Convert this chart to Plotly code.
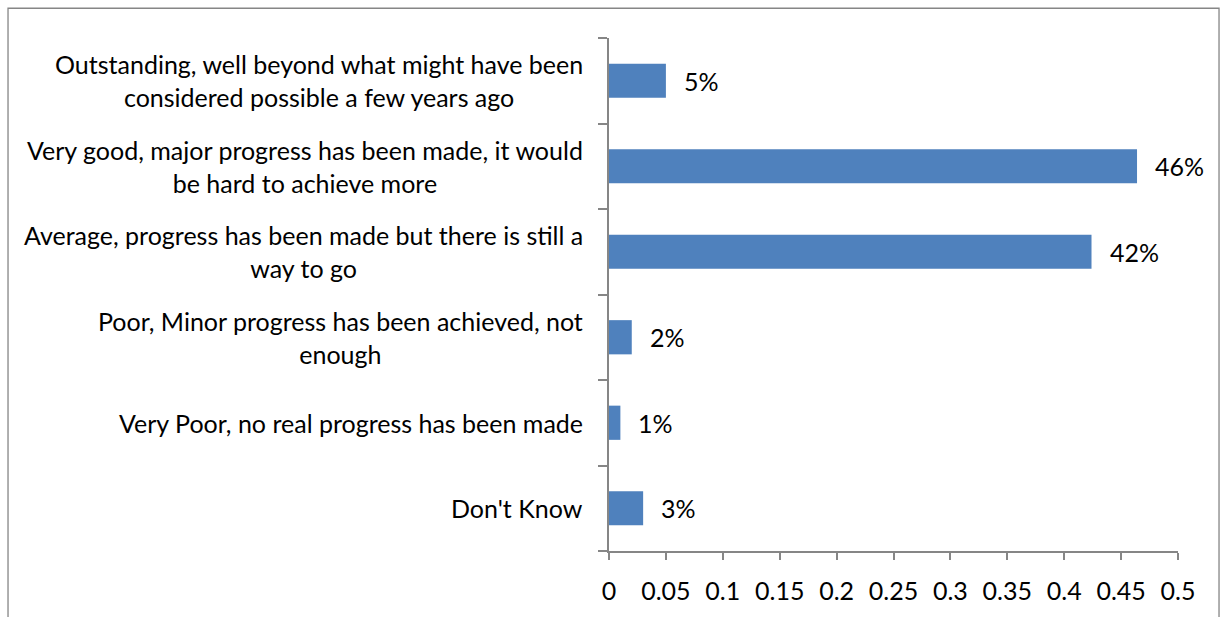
import plotly.graph_objects as go

# Survey responses, top to bottom
categories = [
    "Outstanding, well beyond what might have been<br>considered possible a few years ago",
    "Very good, major progress has been made, it would<br>be hard to achieve more",
    "Average, progress has been made but there is still a<br>way to go",
    "Poor, Minor progress has been achieved, not<br>enough",
    "Very Poor, no real progress has been made",
    "Don't Know",
]
shares = [0.05, 0.464, 0.424, 0.02, 0.01, 0.03]
x_ticks = [0, 0.05, 0.1, 0.15, 0.2, 0.25, 0.3, 0.35, 0.4, 0.45, 0.5]
x_tick_labels = ["0", "0.05", "0.1", "0.15", "0.2", "0.25", "0.3", "0.35", "0.4", "0.45", "0.5"]

FONT = "Lato"
FSIZE = 25
AXIS_GREY = "#868686"
BAR_BLUE = "#4F81BD"

fig = go.Figure(
    go.Bar(
        x=shares,
        y=categories,
        orientation="h",
        marker=dict(color=BAR_BLUE, line=dict(width=0)),
        width=0.4,
        hoverinfo="skip",
    )
)

# Category labels, centred within their own block
annotations = []
for cat in categories:
    annotations.append(dict(
        x=0, xref="paper", y=cat, yref="y",
        text=cat, showarrow=False, xanchor="right", yanchor="middle",
        align="center", xshift=-24,
        font=dict(family=FONT, size=FSIZE, color="#000000"),
    ))

# Percentage labels next to each bar
for cat, v in zip(categories, shares):
    annotations.append(dict(
        x=v, xref="x", y=cat, yref="y",
        text=f"{round(v * 100):.0f}%", showarrow=False,
        xanchor="left", yanchor="middle", xshift=16,
        font=dict(family=FONT, size=FSIZE, color="#000000"),
    ))

fig.update_layout(
    width=1225, height=617,
    margin=dict(l=609, r=47, t=38, b=62),
    paper_bgcolor="white", plot_bgcolor="white",
    showlegend=False,
    annotations=annotations,
    font=dict(family=FONT, size=FSIZE, color="#000000"),
    shapes=[dict(
        type="rect", xref="paper", yref="paper",
        x0=-1.0562, x1=1.0721, y0=-0.3, y1=1.058,
        line=dict(color=AXIS_GREY, width=1.3), fillcolor="rgba(0,0,0,0)",
        layer="below",
    )],
)

fig.update_xaxes(
    range=[0, 0.5],
    tickvals=x_ticks, ticktext=x_tick_labels,
    showgrid=False, zeroline=False,
    showline=True, linecolor=AXIS_GREY, linewidth=1.5,
    ticks="outside", ticklen=7, tickcolor=AXIS_GREY, tickwidth=1.5,
    ticklabelstandoff=10,
    tickfont=dict(family=FONT, size=FSIZE, color="#000000"),
)

fig.update_yaxes(
    categoryorder="array", categoryarray=categories[::-1],
    autorange=False, range=[-0.5, len(categories) - 0.5],
    showgrid=False, zeroline=False,
    showline=True, linecolor=AXIS_GREY, linewidth=1.5,
    ticks="outside", tickson="boundaries", ticklen=9,
    tickcolor=AXIS_GREY, tickwidth=1.5,
    showticklabels=False,
)

fig.write_html("out.html")
